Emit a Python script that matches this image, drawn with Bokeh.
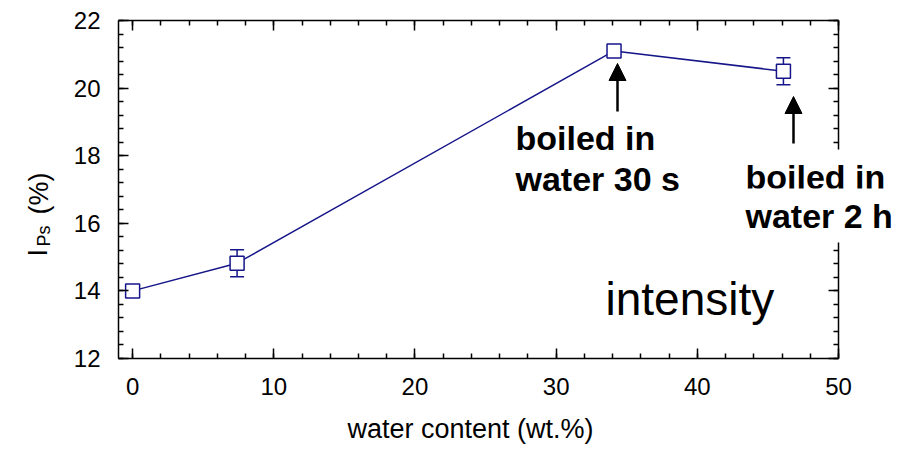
import math
from bokeh.plotting import figure
from bokeh.models import (ColumnDataSource, LinearAxis, SingleIntervalTicker, Whisker,
                          TeeHead, Label, Arrow, NormalHead, Range1d)
from bokeh.embed import file_html
from bokeh.resources import INLINE

# ---- data ----
water_content = [0.0, 7.4, 34.1, 46.1]
intensity = [14.0, 14.82, 21.1, 20.5]
intensity_err = [0.0, 0.4, 0.0, 0.4]

x_limits = (-1, 50)
y_limits = (12, 22)
x_ticks_interval = 10
y_ticks_interval = 2

FONT = "Liberation Sans"
NAVY = "#16168a"

# ---- layout (pixels) ----
W, H = 900, 450
BOX_L, BOX_R, BOX_T, BOX_B = 118, 838, 20, 358
sx = (BOX_R - BOX_L) / (x_limits[1] - x_limits[0])
sy = (BOX_B - BOX_T) / (y_limits[1] - y_limits[0])
x0 = x_limits[0] - BOX_L / sx
y1 = y_limits[1] + BOX_T / sy


def px(x):
    return x0 + x / sx


def py(y):
    return y1 - y / sy


p = figure(width=W, height=H, output_backend="svg", toolbar_location=None,
           x_range=Range1d(x0, x0 + W / sx), y_range=Range1d(y1 - H / sy, y1),
           min_border=0, x_axis_location=None, y_axis_location=None)
p.xgrid.visible = False
p.ygrid.visible = False
p.outline_line_color = None
p.background_fill_color = "white"
p.border_fill_color = "white"


def style(ax, labels):
    ax.axis_line_color = "black"
    ax.axis_line_width = 1.5
    ax.major_tick_line_width = 1.5
    ax.minor_tick_line_width = 1.5
    ax.major_tick_in = 10
    ax.major_tick_out = 0
    ax.minor_tick_in = 5
    ax.minor_tick_out = 0
    ax.major_tick_line_color = "black"
    ax.minor_tick_line_color = "black"
    if labels:
        ax.major_label_text_font = FONT
        ax.major_label_text_font_size = "24px"
        ax.major_label_text_color = "black"
    else:
        ax.major_label_text_alpha = 0


xt = SingleIntervalTicker(interval=x_ticks_interval, num_minor_ticks=5)
yt = SingleIntervalTicker(interval=y_ticks_interval, num_minor_ticks=5)

bx = LinearAxis(ticker=xt, fixed_location=y_limits[0], bounds=x_limits)
style(bx, True); bx.major_label_standoff = 19
ly = LinearAxis(ticker=yt, fixed_location=x_limits[0], bounds=y_limits)
style(ly, True); ly.major_label_standoff = 18
tx = LinearAxis(ticker=xt, fixed_location=y_limits[1], bounds=x_limits)
style(tx, False)
ry = LinearAxis(ticker=yt, fixed_location=x_limits[1], bounds=y_limits)
style(ry, False)
p.add_layout(bx, "below")
p.add_layout(ly, "left")
p.add_layout(tx, "above")
p.add_layout(ry, "right")

# error bars
ex = [x for x, e in zip(water_content, intensity_err) if e > 0]
ey = [y for y, e in zip(intensity, intensity_err) if e > 0]
ee = [e for e in intensity_err if e > 0]
esrc = ColumnDataSource(dict(x=ex, lower=[y - e for y, e in zip(ey, ee)],
                             upper=[y + e for y, e in zip(ey, ee)]))
w = Whisker(base="x", lower="lower", upper="upper", source=esrc, dimension="height",
            line_color=NAVY, line_width=1.5, level="underlay",
            upper_head=TeeHead(size=14, line_color=NAVY, line_width=1.5),
            lower_head=TeeHead(size=14, line_color=NAVY, line_width=1.5))
p.add_layout(w)

src = ColumnDataSource(dict(x=water_content, y=intensity))
p.line("x", "y", source=src, line_color=NAVY, line_width=1.5)
p.scatter("x", "y", source=src, marker="square", size=14, fill_color="white",
          line_color=NAVY, line_width=1.5)

# arrows (pixel positions: x, tail y, tip y)
for (xa, ya0, ya1) in [(617, 111, 63), (793, 143, 96)]:
    p.add_layout(Arrow(x_start=px(xa), y_start=py(ya0), x_end=px(xa), y_end=py(ya1),
                       line_width=2.5, line_color="black",
                       end=NormalHead(size=17, fill_color="black", line_color="black",
                                      line_width=1)))


def label(txt, x, y, size, bold=False, angle=0.0, align="left", bg=None, pad=0):
    p.add_layout(Label(x=px(x), y=py(y), text=txt, text_font=FONT, text_font_size=size,
                       text_font_style="bold" if bold else "normal", text_color="black",
                       text_baseline="alphabetic", text_align=align, angle=angle,
                       background_fill_color=bg, padding=pad))


label("boiled in", 515, 137, "34px", bold=True)
label("water 30 s", 515, 178, "34px", bold=True)
label("boiled in", 737, 176, "34px", bold=True, bg="white", pad=8)
label("water 2 h", 737, 215, "34px", bold=True, bg="white", pad=8)
label("intensity", 605, 298, "46px")

# axis titles
label("water content (wt.%)", 470, 428, "27px", align="center")
label("I", 37, 256, "27px", angle=math.pi / 2)
label("Ps", 43, 246, "18px", angle=math.pi / 2)
label("(%)", 38, 214, "27px", angle=math.pi / 2)

open("out.html", "w").write(file_html(p, INLINE))
